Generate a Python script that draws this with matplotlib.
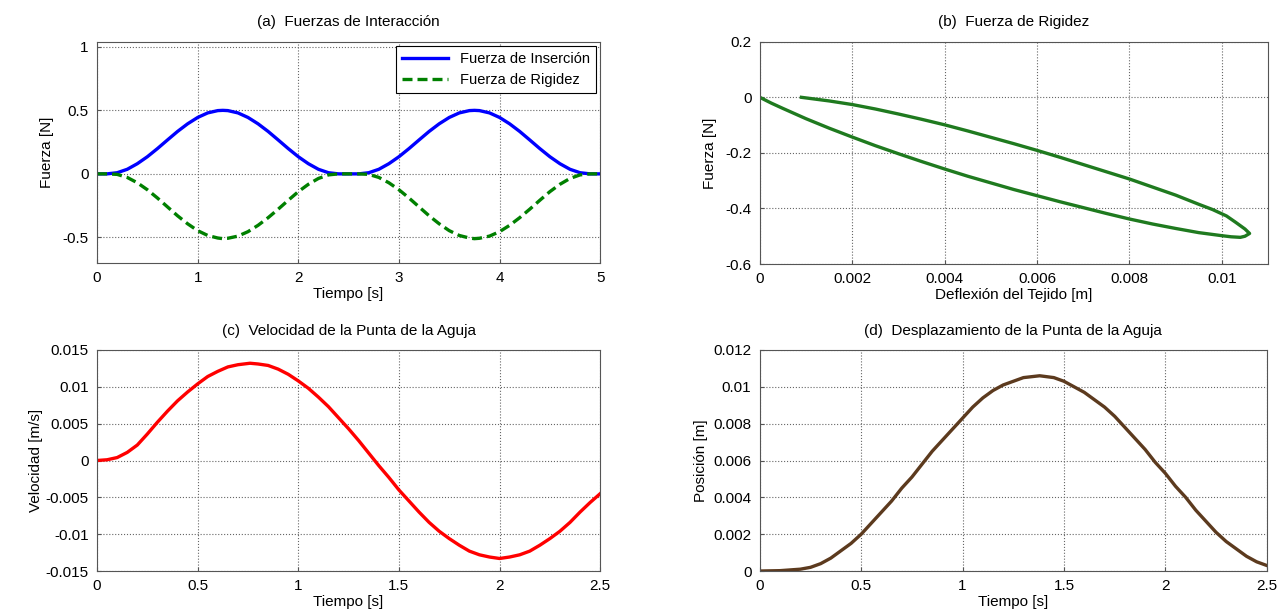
import matplotlib
matplotlib.use("Agg")
import matplotlib.pyplot as plt

plt.rcParams['font.family'] = ['Liberation Sans', 'DejaVu Sans']

# (a) interaction forces vs time
t_a = [0, 0.1, 0.2, 0.3, 0.4, 0.5, 0.6, 0.7, 0.8, 0.9, 1.0, 1.1, 1.2, 1.25,
       1.3, 1.4, 1.5, 1.6, 1.7, 1.8, 1.9, 2.0, 2.1, 2.2, 2.3, 2.4, 2.5,
       2.6, 2.7, 2.8, 2.9, 3.0, 3.1, 3.2, 3.3, 3.4, 3.5, 3.6, 3.7, 3.75,
       3.8, 3.9, 4.0, 4.1, 4.2, 4.3, 4.4, 4.5, 4.6, 4.7, 4.8, 4.9, 5.0]
f_ins = [0, 0, 0.009, 0.036, 0.080, 0.135, 0.199, 0.267, 0.334, 0.394, 0.444, 0.480, 0.498, 0.5,
         0.498, 0.480, 0.444, 0.394, 0.334, 0.267, 0.199, 0.135, 0.080, 0.036, 0.009, 0, 0,
         0, 0.009, 0.036, 0.080, 0.135, 0.199, 0.267, 0.334, 0.394, 0.444, 0.480, 0.498, 0.5,
         0.498, 0.480, 0.444, 0.394, 0.334, 0.267, 0.199, 0.135, 0.080, 0.036, 0.009, 0, 0]
f_rig = [0, 0, -0.004, -0.028, -0.070, -0.125, -0.190, -0.260, -0.330, -0.393, -0.447, -0.485, -0.505, -0.51,
         -0.507, -0.490, -0.455, -0.405, -0.345, -0.278, -0.208, -0.140, -0.082, -0.036, -0.008, 0, 0,
         0, -0.004, -0.028, -0.070, -0.125, -0.190, -0.260, -0.330, -0.393, -0.447, -0.485, -0.505, -0.51,
         -0.507, -0.490, -0.455, -0.405, -0.345, -0.278, -0.208, -0.140, -0.082, -0.036, -0.008, 0, 0]

# (b) stiffness force vs tissue deflection (loop: lower branch out, upper branch back)
defl = [0, 0.00025, 0.0005, 0.001, 0.0015, 0.002, 0.0025, 0.003, 0.0035, 0.004, 0.0045, 0.005,
        0.0055, 0.006, 0.0065, 0.007, 0.0075, 0.008, 0.0085, 0.009, 0.0095, 0.010, 0.0102, 0.0104,
        0.0105, 0.0106, 0.0105, 0.0103, 0.0101, 0.0098, 0.0095, 0.009, 0.0085, 0.008, 0.0075, 0.007,
        0.0065, 0.006, 0.0055, 0.005, 0.0045, 0.004, 0.0035, 0.003, 0.0025, 0.002, 0.0015, 0.0009]
f_defl = [0, -0.021, -0.040, -0.077, -0.111, -0.143, -0.174, -0.203, -0.231, -0.258, -0.284, -0.308,
          -0.332, -0.354, -0.376, -0.397, -0.418, -0.438, -0.456, -0.472, -0.487, -0.498, -0.502, -0.504,
          -0.500, -0.490, -0.474, -0.450, -0.427, -0.404, -0.385, -0.352, -0.323, -0.294, -0.268, -0.242,
          -0.216, -0.191, -0.167, -0.144, -0.121, -0.099, -0.079, -0.060, -0.042, -0.026, -0.013, 0]

# (c) needle tip velocity
t_c = [0, 0.05, 0.1, 0.15, 0.2, 0.25, 0.3, 0.35, 0.4, 0.45, 0.5, 0.55, 0.6, 0.65, 0.7, 0.76,
       0.8, 0.85, 0.9, 0.95, 1.0, 1.05, 1.1, 1.15, 1.2, 1.25, 1.3, 1.35, 1.4, 1.45, 1.5, 1.55,
       1.6, 1.65, 1.7, 1.75, 1.8, 1.85, 1.9, 1.95, 2.0, 2.05, 2.1, 2.15, 2.2, 2.25, 2.3, 2.35,
       2.4, 2.45, 2.5]
vel = [0, 0.0001, 0.0004, 0.0011, 0.0021, 0.0036, 0.0052, 0.0067, 0.0081, 0.0093, 0.0104, 0.0114,
       0.0121, 0.0127, 0.0130, 0.0132, 0.0131, 0.0129, 0.0124, 0.0117, 0.0108, 0.0098, 0.0086,
       0.0073, 0.0058, 0.0043, 0.0027, 0.0010, -0.0007, -0.0023, -0.0040, -0.0055, -0.0070,
       -0.0084, -0.0096, -0.0106, -0.0115, -0.0123, -0.0128, -0.0131, -0.0133, -0.0131, -0.0128,
       -0.0123, -0.0115, -0.0106, -0.0096, -0.0084, -0.0070, -0.0057, -0.0045]

# (d) needle tip displacement
t_d = [0, 0.1, 0.2, 0.25, 0.3, 0.35, 0.4, 0.45, 0.5, 0.55, 0.6, 0.65, 0.7, 0.75, 0.8, 0.85,
       0.9, 0.95, 1.0, 1.05, 1.1, 1.15, 1.2, 1.25, 1.3, 1.38, 1.45, 1.5, 1.55, 1.6, 1.65, 1.7,
       1.75, 1.8, 1.85, 1.9, 1.95, 2.0, 2.05, 2.1, 2.15, 2.2, 2.25, 2.3, 2.35, 2.4, 2.45, 2.5]
pos = [0, 0.00002, 0.0001, 0.0002, 0.0004, 0.0007, 0.0011, 0.0015, 0.0020, 0.0026, 0.0032,
       0.0038, 0.0045, 0.0051, 0.0058, 0.0065, 0.0071, 0.0077, 0.0083, 0.0089, 0.0094, 0.0098,
       0.0101, 0.0103, 0.0105, 0.0106, 0.0105, 0.0103, 0.0100, 0.0097, 0.0093, 0.0089, 0.0084,
       0.0078, 0.0072, 0.0066, 0.0059, 0.0053, 0.0046, 0.0040, 0.0033, 0.0027, 0.0021, 0.0016,
       0.0012, 0.0008, 0.0005, 0.0003]

ticks_a_x = [0, 1, 2, 3, 4, 5]
ticks_a_y = [-0.5, 0, 0.5, 1]
labels_a_y = ['-0.5', '0', '0.5', '1']
ticks_b_x = [0, 0.002, 0.004, 0.006, 0.008, 0.01]
labels_b_x = ['0', '0.002', '0.004', '0.006', '0.008', '0.01']
ticks_b_y = [-0.6, -0.4, -0.2, 0, 0.2]
labels_b_y = ['-0.6', '-0.4', '-0.2', '0', '0.2']
ticks_t = [0, 0.5, 1, 1.5, 2, 2.5]
labels_t = ['0', '0.5', '1', '1.5', '2', '2.5']
ticks_c_y = [-0.015, -0.01, -0.005, 0, 0.005, 0.01, 0.015]
labels_c_y = ['-0.015', '-0.01', '-0.005', '0', '0.005', '0.01', '0.015']
ticks_d_y = [0, 0.002, 0.004, 0.006, 0.008, 0.01, 0.012]
labels_d_y = ['0', '0.002', '0.004', '0.006', '0.008', '0.01', '0.012']

fig = plt.figure(figsize=(12.77, 6.14), dpi=100)
ax_a = fig.add_axes([0.076, 0.572, 0.394, 0.360])
ax_b = fig.add_axes([0.595, 0.570, 0.398, 0.362])
ax_c = fig.add_axes([0.076, 0.070, 0.394, 0.360])
ax_d = fig.add_axes([0.595, 0.070, 0.397, 0.360])

def style(ax):
    ax.grid(True, linestyle=':', color='#666666', linewidth=0.8)
    ax.tick_params(direction='in', length=3, labelsize=11, color='#555555', pad=6)
    for s in ax.spines.values():
        s.set_color('#555555')
        s.set_linewidth(0.8)

ax_a.plot(t_a, f_ins, color='#0000ff', lw=2.4, label='Fuerza de Inserción')
ax_a.plot(t_a, f_rig, color='#008000', lw=2.4, ls=(0, (3, 1.5)), label='Fuerza de Rigidez')
ax_a.set_xlim(0, 5)
ax_a.set_ylim(-0.7, 1.04)
ax_a.set_xticks(ticks_a_x)
ax_a.set_yticks(ticks_a_y)
ax_a.set_yticklabels(labels_a_y)
ax_a.set_title('(a)  Fuerzas de Interacción', fontsize=11, pad=11)
ax_a.set_xlabel('Tiempo [s]', fontsize=11, labelpad=1)
ax_a.set_ylabel('Fuerza [N]', fontsize=11, labelpad=6)
leg = ax_a.legend(loc='upper right', prop={'size': 10.5},
                  fancybox=False, edgecolor='black', handlelength=3.2,
                  borderaxespad=0.3, framealpha=1)
leg.get_frame().set_linewidth(0.8)
style(ax_a)

ax_b.plot(defl, f_defl, color='#1f7a1f', lw=2.4)
ax_b.set_xlim(0, 0.011)
ax_b.set_ylim(-0.6, 0.2)
ax_b.set_xticks(ticks_b_x)
ax_b.set_xticklabels(labels_b_x)
ax_b.set_yticks(ticks_b_y)
ax_b.set_yticklabels(labels_b_y)
ax_b.set_title('(b)  Fuerza de Rigidez', fontsize=11, pad=11)
ax_b.set_xlabel('Deflexión del Tejido [m]', fontsize=11, labelpad=1)
ax_b.set_ylabel('Fuerza [N]', fontsize=11, labelpad=6)
style(ax_b)

ax_c.plot(t_c, vel, color='#ff0000', lw=2.4)
ax_c.set_xlim(0, 2.5)
ax_c.set_ylim(-0.015, 0.015)
ax_c.set_xticks(ticks_t)
ax_c.set_xticklabels(labels_t)
ax_c.set_yticks(ticks_c_y)
ax_c.set_yticklabels(labels_c_y)
ax_c.set_title('(c)  Velocidad de la Punta de la Aguja', fontsize=11, pad=11)
ax_c.set_xlabel('Tiempo [s]', fontsize=11, labelpad=1)
ax_c.set_ylabel('Velocidad [m/s]', fontsize=11, labelpad=2)
style(ax_c)

ax_d.plot(t_d, pos, color='#5c3a1e', lw=2.4)
ax_d.set_xlim(0, 2.5)
ax_d.set_ylim(0, 0.012)
ax_d.set_xticks(ticks_t)
ax_d.set_xticklabels(labels_t)
ax_d.set_yticks(ticks_d_y)
ax_d.set_yticklabels(labels_d_y)
ax_d.set_title('(d)  Desplazamiento de la Punta de la Aguja', fontsize=11, pad=11)
ax_d.set_xlabel('Tiempo [s]', fontsize=11, labelpad=1)
ax_d.set_ylabel('Posición [m]', fontsize=11, labelpad=4)
style(ax_d)

fig.savefig('out.png', dpi=100)
